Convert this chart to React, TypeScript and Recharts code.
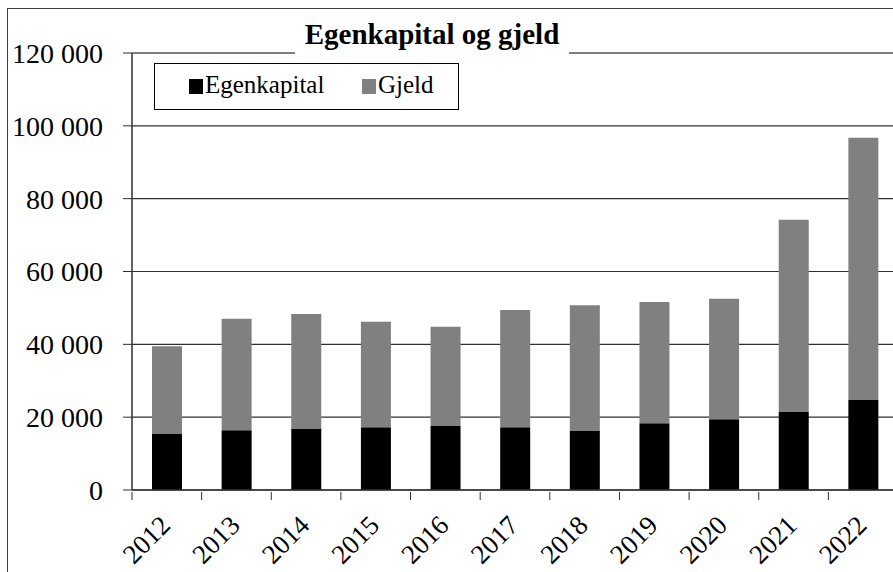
import React from "react"
import { BarChart, Bar, XAxis, YAxis, CartesianGrid, ReferenceLine } from "recharts"

// år og verdier lest av figuren (i tusen kr, avrundet)
const years = ["2012", "2013", "2014", "2015", "2016", "2017", "2018", "2019", "2020", "2021", "2022"]
const egenkapital = [15500, 16400, 16900, 17200, 17600, 17200, 16200, 18300, 19400, 21400, 24700]
const gjeld = [24000, 30600, 31400, 29000, 27200, 32200, 34500, 33300, 33100, 52800, 72000]
const yTicks = [0, 20000, 40000, 60000, 80000, 100000, 120000]

const font = "'Liberation Serif', 'Times New Roman', serif"

const W = 910
const M = { top: 53, right: 12, bottom: 0, left: 12 }
const Y_W = 120
const band = (W - M.left - M.right - Y_W) / years.length

const data = years.map((year, i) => ({ year, egenkapital: egenkapital[i], gjeld: gjeld[i] }))

const fmt = (v: number) => String(v).replace(/\B(?=(\d{3})+(?!\d))/g, " ")

// Excel-stil: tikkstreker mellom kategoriene, etikett rotert -45°
function YearTick({ x, y, payload, index }: any) {
  const tx = x + 5
  const ty = y + 27
  const top = y - 8
  return (
    <g>
      <line x1={x - band / 2} x2={x - band / 2} y1={top} y2={top + 8} stroke="#303030" />
      {index === years.length - 1 && (
        <line x1={x + band / 2} x2={x + band / 2} y1={top} y2={top + 8} stroke="#303030" />
      )}
      <text
        x={tx}
        y={ty}
        textAnchor="end"
        fontSize={27}
        fontFamily={font}
        fill="#000"
        transform={`rotate(-45 ${tx} ${ty})`}
      >
        {payload.value}
      </text>
    </g>
  )
}

function Legendeboks() {
  const sq = (c: string): React.CSSProperties => ({
    position: "absolute",
    top: 15,
    width: 14,
    height: 15,
    background: c,
  })
  const txt: React.CSSProperties = { position: "absolute", top: 7, fontSize: 25, lineHeight: "28px" }
  return (
    <div
      style={{
        position: "absolute",
        left: 154,
        top: 63,
        width: 303,
        height: 45,
        border: "1.5px solid #000",
        background: "#fff",
        fontFamily: font,
      }}
    >
      <div style={{ ...sq("#000"), left: 34 }} />
      <div style={{ ...txt, left: 50 }}>Egenkapital</div>
      <div style={{ ...sq("#808080"), left: 207 }} />
      <div style={{ ...txt, left: 223 }}>Gjeld</div>
    </div>
  )
}

export default function App() {
  return (
    <div
      style={{
        position: "absolute",
        left: 0,
        top: 0,
        width: 893,
        height: 572,
        overflow: "hidden",
        background: "#fff",
        fontFamily: font,
      }}
    >
      <div
        style={{
          position: "absolute",
          left: 7,
          top: 8,
          width: 1000,
          height: 1000,
          border: "1px solid #404040",
        }}
      />
      <div style={{ position: "absolute", left: 0, top: 0 }}>
        <BarChart width={W} height={572} data={data} margin={M} barSize={30}>
          <CartesianGrid vertical={false} stroke="#303030" strokeWidth={1.2} />
          <XAxis
            dataKey="year"
            height={82}
            tickSize={8}
            tickLine={false}
            axisLine={{ stroke: "#303030", strokeWidth: 1.5 }}
            interval={0}
            tick={<YearTick />}
          />
          <YAxis
            width={Y_W}
            domain={[0, 120000]}
            ticks={yTicks}
            interval={0}
            tickFormatter={fmt}
            tickSize={9}
            tickMargin={20}
            tickLine={{ stroke: "#303030" }}
            axisLine={{ stroke: "#303030", strokeWidth: 1.5 }}
            tick={{ fontSize: 28, fontFamily: font, fill: "#000" }}
          />
          <ReferenceLine y={120000} stroke="#808080" strokeWidth={2} />
          <Bar dataKey="egenkapital" stackId="a" fill="#000000" isAnimationActive={false} />
          <Bar dataKey="gjeld" stackId="a" fill="#808080" isAnimationActive={false} />
        </BarChart>
      </div>
      <div
        style={{
          position: "absolute",
          left: 295,
          top: 19,
          width: 274,
          height: 35,
          background: "#fff",
          textAlign: "center",
          fontSize: 29,
          fontWeight: "bold",
          lineHeight: "30px",
        }}
      >
        Egenkapital og gjeld
      </div>
      <Legendeboks />
    </div>
  )
}
